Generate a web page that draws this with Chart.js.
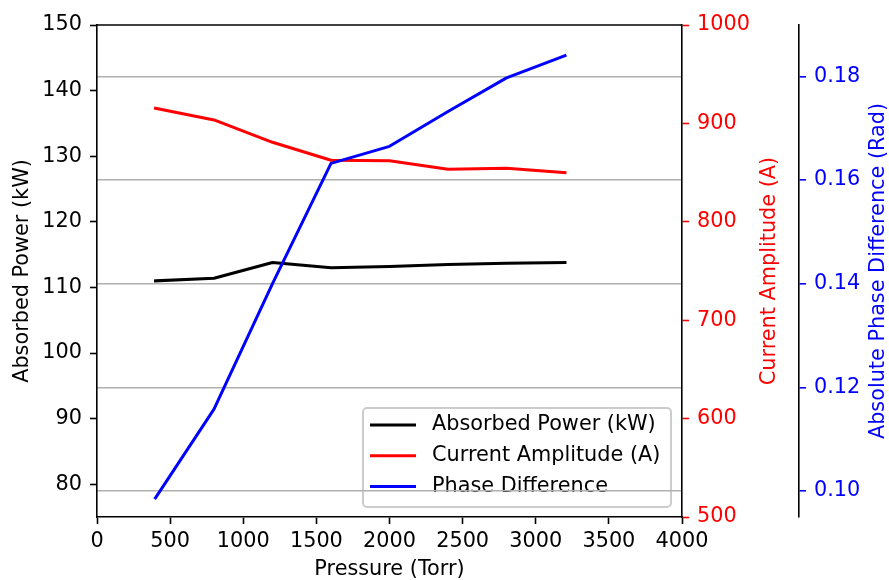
<!DOCTYPE html>
<html>
<head>
<meta charset="utf-8">
<script src="https://cdn.jsdelivr.net/npm/chart.js@4.4.0/dist/chart.umd.min.js"></script>
<style>
  body { margin: 0; background: #fff; }
  canvas { display: block; }
</style>
</head>
<body>
<canvas id="myChart" width="889" height="580"></canvas>
<script>
// Mesures en fonction de la pression
const pressure = [400, 800, 1200, 1600, 2000, 2400, 2800, 3200];
const absorbedPower = [111.0, 111.4, 113.8, 113.0, 113.2, 113.5, 113.7, 113.8];
const currentAmplitude = [915.3, 903.5, 880.8, 862.5, 862.1, 853.4, 854.4, 850.0];
const phaseDifference = [0.0987, 0.1158, 0.1400, 0.1632, 0.1665, 0.1732, 0.1797, 0.1840];

// Graduations des axes
const pressureTicks = [0, 500, 1000, 1500, 2000, 2500, 3000, 3500, 4000];
const powerTicks = [80, 90, 100, 110, 120, 130, 140, 150];
const currentTicks = [500, 600, 700, 800, 900, 1000];
const phaseTicks = [0.10, 0.12, 0.14, 0.16, 0.18];

const police = { family: 'DejaVu Sans', size: 20.8 };

function points(values) {
  return pressure.map((p, i) => ({ x: p, y: values[i] }));
}
function fixTicks(values) {
  return scale => { scale.ticks = values.map(v => ({ value: v })); };
}
// pas de séparateur de milliers
const brut = v => String(v);

// Légende dessinée dans la zone du graphique (avant les axes, la grille passe par-dessus)
const legendeInterne = {
  id: 'legendeInterne',
  beforeDraw(chart) {
    const ctx = chart.ctx;
    const a = chart.chartArea;
    const w = 308, h = 99;
    const x0 = a.right - 11 - w, y0 = a.bottom - 10 - h;
    ctx.save();
    ctx.fillStyle = 'rgba(255,255,255,0.8)';
    ctx.strokeStyle = '#cccccc';
    ctx.lineWidth = 2;
    ctx.beginPath();
    ctx.roundRect(x0, y0, w, h, 4);
    ctx.fill();
    ctx.stroke();
    ctx.font = '20.8px "DejaVu Sans"';
    ctx.textBaseline = 'middle';
    ctx.textAlign = 'left';
    chart.data.datasets.forEach((ds, i) => {
      const y = y0 + 17 + i * 30.8;
      ctx.strokeStyle = ds.borderColor;
      ctx.lineWidth = 3;
      ctx.beginPath();
      ctx.moveTo(x0 + 7, y);
      ctx.lineTo(x0 + 53, y);
      ctx.stroke();
      ctx.fillStyle = '#000';
      ctx.fillText(ds.label, x0 + 69, y);
    });
    ctx.restore();
  }
};

// Titres des axes de droite (lus de bas en haut) et bordure du haut
const habillage = {
  id: 'habillage',
  afterDraw(chart) {
    const ctx = chart.ctx;
    const a = chart.chartArea;
    const mid = (a.top + a.bottom) / 2;
    ctx.save();
    ctx.strokeStyle = '#000';
    ctx.lineWidth = 1.6;
    ctx.beginPath();
    ctx.moveTo(a.left, a.top);
    ctx.lineTo(a.right, a.top);
    ctx.stroke();
    ctx.font = '20.8px "DejaVu Sans"';
    ctx.textAlign = 'center';
    ctx.textBaseline = 'middle';
    [[chart.scales.y1.left + 88, 'red', 'Current Amplitude (A)'],
     [chart.scales.y2.left + 80, 'blue', 'Absolute Phase Difference (Rad)']].forEach(([x, c, t]) => {
      ctx.save();
      ctx.translate(x, mid);
      ctx.rotate(-Math.PI / 2);
      ctx.fillStyle = c;
      ctx.fillText(t, 0, 0);
      ctx.restore();
    });
    ctx.restore();
  }
};

const ctx = document.getElementById('myChart').getContext('2d');
const myChart = new Chart(ctx, {
  type: 'line',
  data: {
    datasets: [
      { label: 'Absorbed Power (kW)', data: points(absorbedPower), yAxisID: 'y', borderColor: '#000000', order: 2 },
      { label: 'Current Amplitude (A)', data: points(currentAmplitude), yAxisID: 'y1', borderColor: '#ff0000', order: 1 },
      { label: 'Phase Difference', data: points(phaseDifference), yAxisID: 'y2', borderColor: '#0000ff', order: 0 }
    ]
  },
  options: {
    responsive: false,
    animation: false,
    layout: { padding: { top: 25, right: 0, bottom: 0, left: 0 } },
    elements: {
      line: { borderWidth: 3, tension: 0, borderJoinStyle: 'round', borderCapStyle: 'square', fill: false },
      point: { radius: 0, hoverRadius: 0 }
    },
    plugins: { legend: { display: false }, tooltip: { enabled: false } },
    scales: {
      x: {
        type: 'linear', position: 'bottom', min: 0, max: 4000,
        afterBuildTicks: fixTicks(pressureTicks),
        afterFit: s => { s.height = 63; },
        grid: { drawOnChartArea: false, tickLength: 7, tickWidth: 1.6, tickColor: '#000' },
        border: { color: '#000', width: 1.6 },
        ticks: { color: '#000', padding: 5, maxRotation: 0, autoSkip: false, font: police, callback: brut },
        title: { display: true, text: 'Pressure (Torr)', color: '#000', font: { ...police, lineHeight: 1 }, padding: 0 }
      },
      y: {
        type: 'linear', position: 'left', min: 75, max: 150,
        afterBuildTicks: fixTicks(powerTicks),
        afterFit: s => { s.width = 97; },
        grid: { drawOnChartArea: false, tickLength: 7, tickWidth: 1.6, tickColor: '#000' },
        border: { color: '#000', width: 1.6 },
        ticks: { color: '#000', padding: 8, autoSkip: false, font: police, callback: brut },
        title: { display: true, text: 'Absorbed Power (kW)', color: '#000', font: police, padding: { top: 10, bottom: 0 } }
      },
      y1: {
        type: 'linear', position: 'right', weight: 0, min: 500, max: 1000,
        afterBuildTicks: fixTicks(currentTicks),
        afterFit: s => { s.width = 117; },
        grid: { drawOnChartArea: false, tickLength: 7, tickWidth: 1.6, tickColor: '#ff0000' },
        border: { color: '#000', width: 1.6 },
        ticks: { color: '#ff0000', padding: 8, autoSkip: false, font: police, callback: brut }
      },
      y2: {
        type: 'linear', position: 'right', weight: 1, min: 0.095, max: 0.1899,
        afterBuildTicks: fixTicks(phaseTicks),
        afterFit: s => { s.width = 90; },
        grid: { drawOnChartArea: true, color: '#b0b0b0', lineWidth: 1.6, tickLength: 7, tickWidth: 1.6, tickColor: '#0000ff' },
        border: { color: '#000', width: 1.6 },
        ticks: { color: '#0000ff', padding: 8, autoSkip: false, font: police, callback: v => v.toFixed(2) }
      }
    }
  },
  plugins: [legendeInterne, habillage]
});
</script>
</body>
</html>
